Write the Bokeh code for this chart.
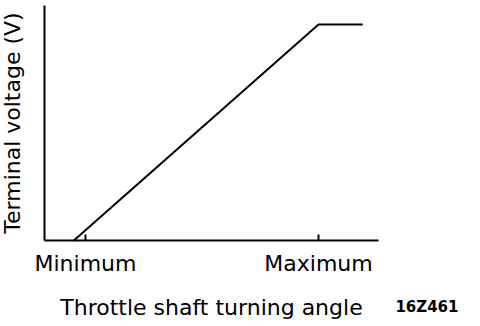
from bokeh.plotting import figure
from bokeh.models import FixedTicker, Range1d, Label
from bokeh.embed import file_html
from bokeh.resources import INLINE

# Data (normalised: angle 0 = Minimum, 1 = Maximum; voltage 0..1 of full scale)
angle = [-0.05, 1.0, 1.19]
voltage = [0.0, 1.0, 1.0]
tick_positions = [0, 1]
tick_labels = ["Minimum", "Maximum"]
x_title = "Throttle shaft turning angle"
y_title = "Terminal voltage (V)"
figure_code = "16Z461"

FONT = "DejaVu Sans"

p = figure(width=480, height=326, output_backend="svg", toolbar_location=None,
           x_range=Range1d(-0.3648, 1.6953), y_range=Range1d(-0.3981, 1.1111),
           min_border=0)
p.grid.visible = False
p.outline_line_color = None
p.background_fill_color = "white"
p.border_fill_color = "white"

p.line(angle, voltage, line_color="black", line_width=2)

# x axis
xa = p.xaxis[0]
xa.fixed_location = 0
xa.bounds = (-0.176, 1.2575)
xa.ticker = FixedTicker(ticks=tick_positions)
xa.major_label_overrides = {t: l for t, l in zip(tick_positions, tick_labels)}
xa.major_tick_in = 6
xa.major_tick_out = 0
xa.minor_tick_line_color = None
xa.axis_line_width = 2
xa.major_tick_line_width = 2
xa.major_label_text_font = FONT
xa.major_label_text_font_size = "22px"
xa.major_label_text_color = "black"
xa.major_label_standoff = 10
xa.axis_label = x_title
xa.axis_label_text_font = FONT
xa.axis_label_text_font_size = "22px"
xa.axis_label_text_font_style = "normal"
xa.axis_label_text_color = "black"
xa.axis_label_standoff = 16

# y axis
ya = p.yaxis[0]
ya.fixed_location = -0.176
ya.bounds = (0, 1.088)
ya.ticker = FixedTicker(ticks=[])
ya.major_tick_line_color = None
ya.minor_tick_line_color = None
ya.axis_line_width = 2
ya.axis_label = y_title
ya.axis_label_text_font = FONT
ya.axis_label_text_font_size = "22px"
ya.axis_label_text_font_style = "normal"
ya.axis_label_text_color = "black"
ya.axis_label_standoff = 20

p.add_layout(Label(x=1.33, y=-0.31, text=figure_code,
                   text_font=FONT, text_font_size="15px", text_font_style="bold",
                   text_baseline="alphabetic", text_color="black"))

open("out.html", "w").write(file_html(p, INLINE))
